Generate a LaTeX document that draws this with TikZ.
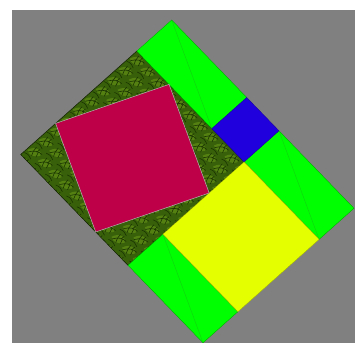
\documentclass[tikz,border=0pt]{standalone}
\definecolor{bggray}{RGB}{128,128,128}
\definecolor{lime}{RGB}{0,255,0}
\definecolor{limeedge}{RGB}{0,170,0}
\definecolor{limediag}{RGB}{20,200,20}
\definecolor{sqblue}{RGB}{32,0,220}
\definecolor{sqred}{RGB}{190,0,72}
\definecolor{sqyellow}{RGB}{228,255,0}
\definecolor{olivebase}{RGB}{56,96,10}
\definecolor{olivelight}{RGB}{84,128,18}
\definecolor{olivedark}{RGB}{26,52,2}
\tikzset{
  greenrect/.style={fill=lime, draw=limeedge, line width=0.35pt},
  diag/.style={draw=limediag, line width=0.3pt},
  bluesq/.style={fill=sqblue, draw=sqblue!70!black, line width=0.3pt},
  yellowsq/.style={fill=sqyellow, draw=sqyellow!70!black, line width=0.3pt},
  redsq/.style={fill=sqred, draw=gray!60!white, line width=0.5pt},
  darkedge/.style={draw=olivedark!60!black, line width=0.5pt},
  leafhi/.style={fill=olivelight},
  leafline/.style={draw=olivedark, line width=0.6pt, line cap=round}
}
\begin{document}
\begin{tikzpicture}[x=1pt,y=1pt]
\useasboundingbox (0,0) rectangle (355,343);
\fill[white] (0,0) rectangle (355,343);
\fill[bggray] (12,0) rectangle (355,333);
\begin{scope}[shift={(171.7,323)}, x={(0.7012pt,-0.7242pt)}, y={(-0.7588pt,-0.6759pt)}]
  % corners of the outline
  \coordinate (T) at (0,0);
  \coordinate (R) at (260,0);
  \coordinate (B) at (260,199);
  \coordinate (L) at (0,199);
  \coordinate (G1) at (107,0);
  \coordinate (G2) at (153,0);
  \coordinate (H0) at (0,46);
  \coordinate (H1) at (107,46);
  \coordinate (H2) at (153,46);
  \coordinate (H3) at (260,46);
  \coordinate (K2) at (153,153);
  \coordinate (K3) at (260,153);
  \coordinate (M2) at (153,199);
  \coordinate (P1) at (46,46);
  \coordinate (P2) at (153,92);
  \coordinate (P3) at (107,199);
  \coordinate (P4) at (0,153);
  % textured dark square
  \begin{scope}
    \clip (H0) -- (H2) -- (M2) -- (L) -- cycle;
    \fill[olivebase] (H0) -- (H2) -- (M2) -- (L) -- cycle;
    \foreach \i in {-15,0,...,165} {
      \foreach \j in {31,46,...,211} {
        \fill[leafhi] (\i+1,\j+10) .. controls (\i+3,\j+1) and (\i+12,\j+0) .. (\i+14,\j+5)
                      .. controls (\i+11,\j+11) and (\i+5,\j+13) .. cycle;
        \draw[leafline] (\i+3,\j+11) .. controls (\i+6,\j+5) and (\i+10,\j+3) .. (\i+14,\j+3);
        \draw[leafline] (\i+6,\j+7) -- (\i+5,\j+2);
        \draw[leafline] (\i+9,\j+5) -- (\i+9,\j+1);
        \draw[leafline] (\i+10,\j+4) -- (\i+12,\j+9);
        \draw[leafline] (\i+6,\j+7) -- (\i+8,\j+11);
        \draw[leafline] (\i+1,\j+14) .. controls (\i+5,\j+12.5) .. (\i+10,\j+14);
      }
    }
  \end{scope}
  \draw[darkedge] (H0) -- (H2) -- (M2) -- (L) -- cycle;
  % green rectangles
  \draw[greenrect] (T) -- (G1) -- (H1) -- (H0) -- cycle;
  \draw[greenrect] (G2) -- (R) -- (H3) -- (H2) -- cycle;
  \draw[greenrect] (K2) -- (K3) -- (B) -- (M2) -- cycle;
  \draw[diag] (T) -- (H1);
  \draw[diag] (G2) -- (H3);
  \draw[diag] (K2) -- (B);
  % squares
  \draw[bluesq] (G1) -- (G2) -- (H2) -- (H1) -- cycle;
  \draw[yellowsq] (H2) -- (H3) -- (K3) -- (K2) -- cycle;
  \draw[redsq] (P1) -- (P2) -- (P3) -- (P4) -- cycle;
\end{scope}
\end{tikzpicture}
\end{document}
